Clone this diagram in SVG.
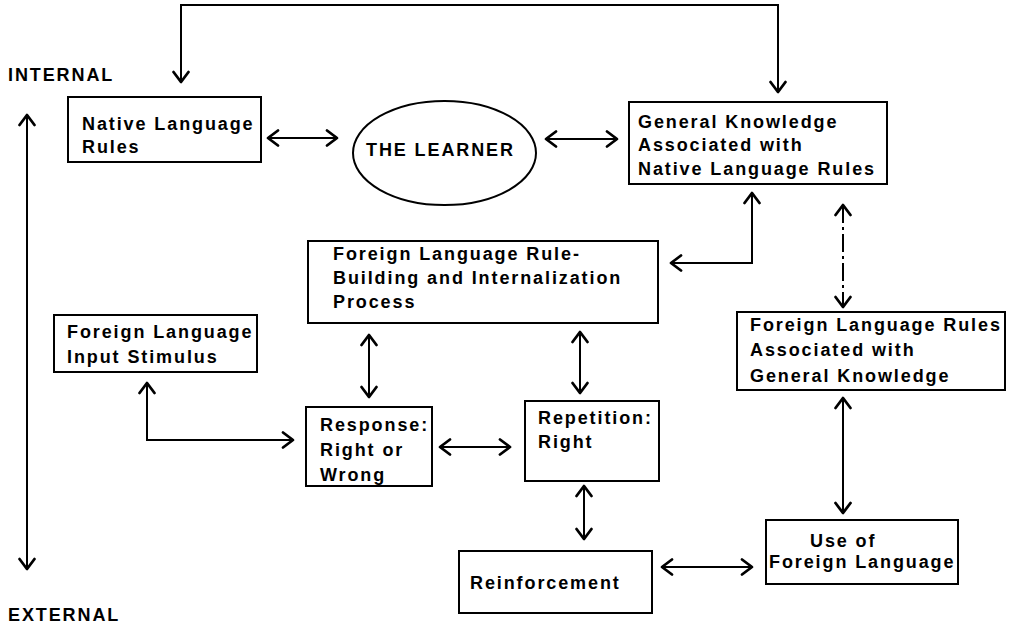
<svg xmlns="http://www.w3.org/2000/svg" width="1010" height="624" viewBox="0 0 1010 624">
<style>
.box{fill:#fff;stroke:#000;stroke-width:2}
.t{font-family:"Liberation Sans",Arial,sans-serif;font-weight:bold;font-size:18px;letter-spacing:1.9px;fill:#000}
.c{fill:none;stroke:#000;stroke-width:2;marker-start:url(#ah);marker-end:url(#ah)}
</style>
<defs>
<marker id="ah" viewBox="-13 -10 15 20" refX="0" refY="0" markerWidth="15" markerHeight="20" markerUnits="userSpaceOnUse" orient="auto-start-reverse">
<path d="M-10,-7.5 L0,0 L-10,7.5" fill="none" stroke="#000" stroke-width="2.8" stroke-linejoin="round" stroke-linecap="round"/>
</marker>
</defs>
<rect width="1010" height="624" fill="#fff"/>
<g id="labels">
<text class="t" x="8" y="81">INTERNAL</text>
<text class="t" x="8" y="621">EXTERNAL</text>
</g>
<g id="connectors">
<path class="c" d="M27,115 V569"/>
<path class="c" d="M181,82 V5 H778 V92"/>
<path class="c" d="M268,138 H337"/>
<path class="c" d="M546,139 H617"/>
<path class="c" d="M752,193 V263 H671"/>
<path class="c" d="M843,205 V307" stroke-dasharray="18,4,3,4"/>
<path class="c" d="M147,383 V440 H293"/>
<path class="c" d="M369,335 V397"/>
<path class="c" d="M580,332 V393"/>
<path class="c" d="M440,447 H510"/>
<path class="c" d="M584,486 V539"/>
<path class="c" d="M662,567 H752"/>
<path class="c" d="M843,398 V513"/>
</g>
<g id="native">
<rect class="box" x="68" y="97" width="193" height="65"/>
<text class="t" x="82" y="130">Native Language</text>
<text class="t" x="82" y="153">Rules</text>
</g>
<g id="learner">
<ellipse cx="444.5" cy="153" rx="91.5" ry="52" fill="#fff" stroke="#000" stroke-width="2"/>
<text class="t" x="366" y="156">THE LEARNER</text>
</g>
<g id="general-knowledge">
<rect class="box" x="629" y="102" width="258" height="82"/>
<text class="t" x="638" y="128">General Knowledge</text>
<text class="t" x="638" y="151">Associated with</text>
<text class="t" x="638" y="175">Native Language Rules</text>
</g>
<g id="rule-building">
<rect class="box" x="308" y="241" width="350" height="82"/>
<text class="t" x="333" y="260">Foreign Language Rule-</text>
<text class="t" x="333" y="284">Building and Internalization</text>
<text class="t" x="333" y="308">Process</text>
</g>
<g id="input-stimulus">
<rect class="box" x="54" y="315" width="203" height="57"/>
<text class="t" x="67" y="338">Foreign Language</text>
<text class="t" x="67" y="363">Input Stimulus</text>
</g>
<g id="fl-rules">
<rect class="box" x="737" y="312" width="268" height="78"/>
<text class="t" x="750" y="331">Foreign Language Rules</text>
<text class="t" x="750" y="356">Associated with</text>
<text class="t" x="750" y="382">General Knowledge</text>
</g>
<g id="response">
<rect class="box" x="306" y="407" width="126" height="79"/>
<text class="t" x="320" y="431">Response:</text>
<text class="t" x="320" y="456">Right or</text>
<text class="t" x="320" y="481">Wrong</text>
</g>
<g id="repetition">
<rect class="box" x="525" y="401" width="134" height="80"/>
<text class="t" x="538" y="424">Repetition:</text>
<text class="t" x="538" y="448">Right</text>
</g>
<g id="reinforcement">
<rect class="box" x="459" y="551" width="193" height="62"/>
<text class="t" x="470" y="589">Reinforcement</text>
</g>
<g id="use">
<rect class="box" x="766" y="520" width="192" height="64"/>
<text class="t" x="810" y="547">Use of</text>
<text class="t" x="769" y="568">Foreign Language</text>
</g>
</svg>
